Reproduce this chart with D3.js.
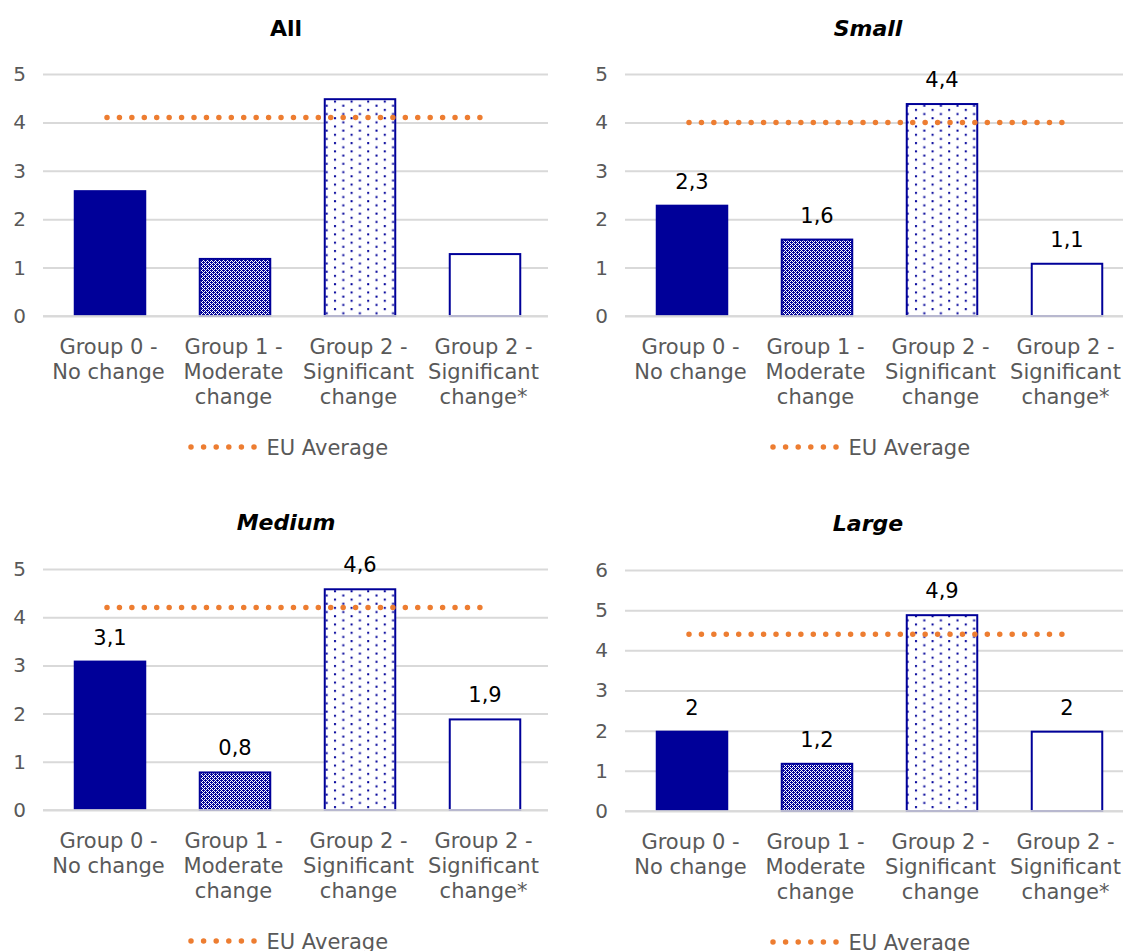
<!DOCTYPE html>
<html>
<head>
<meta charset="utf-8">
<script src="https://cdn.jsdelivr.net/npm/d3@7"></script>
<style>
  html, body { margin: 0; padding: 0; background: #fff; }
  svg text { font-family: "DejaVu Sans", Verdana, sans-serif; }
</style>
</head>
<body>
<svg id="chart" width="1123" height="951"></svg>
<script>
// ---- data ----
const categories = ["G0", "G1", "G2", "G2*"];
const categoryLabelLines = [
  ["Group 0 -", "No change"],
  ["Group 1 -", "Moderate", "change"],
  ["Group 2 -", "Significant", "change"],
  ["Group 2 -", "Significant", "change*"]
];
const panelTitles = ["All", "Small", "Medium", "Large"];
const allValues = [2.6, 1.2, 4.5, 1.3];
const smallValues = [2.3, 1.6, 4.4, 1.1];
const mediumValues = [3.1, 0.8, 4.6, 1.9];
const largeValues = [2.0, 1.2, 4.9, 2.0];
const euAverages = [4.1, 4.0, 4.2, 4.4];
const yMaxes = [5, 5, 5, 6];
const showDataLabels = [false, true, true, true];
const legendLabel = "EU Average";

// ---- styling / layout ----
const BLUE = "#000099";
const ORANGE = "#ED7D31";
const GRID = "#d9d9d9";
const GREY_TEXT = "#595959";
const FS = 20;
const FS_CAT = 21;

const svg = d3.select("#chart");
const defs = svg.append("defs");

// checker/lattice pattern (Group 1)
const pCheck = defs.append("pattern").attr("id", "pCheck")
  .attr("patternUnits", "userSpaceOnUse").attr("width", 4).attr("height", 4);
pCheck.append("rect").attr("width", 4).attr("height", 4).attr("fill", "#fff");
[[0,0],[2,0],[1,1],[3,1],[0,2],[2,2],[1,3],[3,3],[1,0],[3,2]].forEach(([x,y]) => {
  pCheck.append("rect").attr("x", x).attr("y", y).attr("width", 1).attr("height", 1)
    .attr("fill", BLUE).attr("shape-rendering", "crispEdges");
});

// dotted pattern (Group 2)
const pDots = defs.append("pattern").attr("id", "pDots")
  .attr("patternUnits", "userSpaceOnUse").attr("width", 16.6).attr("height", 8.3);
pDots.append("rect").attr("width", 16.6).attr("height", 8.3).attr("fill", "#fff");
pDots.append("rect").attr("x", 2).attr("y", 1).attr("width", 2).attr("height", 2).attr("fill", BLUE);
pDots.append("rect").attr("x", 10.3).attr("y", 5.15).attr("width", 2).attr("height", 2).attr("fill", BLUE);

const fills = [BLUE, "url(#pCheck)", "url(#pDots)", "#fff"];

const panels = [
  { left: 43,  right: 548,  y0: 316, values: allValues },
  { left: 625, right: 1130, y0: 316, values: smallValues },
  { left: 43,  right: 548,  y0: 810, values: mediumValues },
  { left: 625, right: 1130, y0: 811, values: largeValues }
];
const plotHeights = [242, 242, 241, 241];

const fmt = v => String(v).replace(".", ",");

panels.forEach((p, i) => {
  const g = svg.append("g");
  const x = d3.scaleBand().domain(categories).range([p.left + 2, p.right + 2])
    .paddingInner(0.42).paddingOuter(0.23);
  const y = d3.scaleLinear().domain([0, yMaxes[i]]).range([p.y0, p.y0 - plotHeights[i]]);
  const cx = k => x(categories[k]) + x.bandwidth() / 2;

  // title
  g.append("text")
    .attr("x", (p.left + p.right) / 2 - 9.5).attr("y", p.y0 - 280)
    .attr("text-anchor", "middle")
    .attr("font-size", 22).attr("font-weight", "bold")
    .attr("font-style", i === 0 ? "normal" : "italic")
    .attr("fill", "#000")
    .text(panelTitles[i]);

  // y axis with gridlines
  const yAxis = d3.axisLeft(y).ticks(yMaxes[i]).tickSize(-(p.right - p.left)).tickPadding(17)
    .tickFormat(d3.format("d"));
  const ga = g.append("g").attr("transform", `translate(${p.left},0)`).call(yAxis);
  ga.select(".domain").remove();
  ga.selectAll(".tick line").attr("stroke", GRID).attr("stroke-width", 2);
  ga.selectAll(".tick text").attr("fill", GREY_TEXT).attr("font-size", FS)
    .attr("font-family", "DejaVu Sans, Verdana, sans-serif");

  // bars
  g.selectAll("rect.bar").data(p.values).join("rect")
    .attr("class", "bar")
    .attr("x", (d, k) => x(categories[k]) + (k === 0 ? 0 : 1))
    .attr("y", (d, k) => y(d) + (k === 0 ? 0 : 1))
    .attr("width", (d, k) => x.bandwidth() - (k === 0 ? 0 : 2))
    .attr("height", (d, k) => y(0) - y(d) - (k === 0 ? 0 : 1))
    .attr("fill", (d, k) => fills[k])
    .attr("stroke", BLUE)
    .attr("stroke-width", (d, k) => k === 0 ? 0 : 2);

  // baseline over bars
  g.append("line").attr("x1", p.left).attr("x2", p.right)
    .attr("y1", y(0)).attr("y2", y(0))
    .attr("stroke", GRID).attr("stroke-width", 2).attr("opacity", 0.85);

  // EU average dotted line
  g.append("line")
    .attr("x1", cx(0) - 3).attr("x2", cx(3) - 3 + 0.5)
    .attr("y1", y(euAverages[i])).attr("y2", y(euAverages[i]))
    .attr("stroke", ORANGE).attr("stroke-width", 5.5)
    .attr("stroke-linecap", "round").attr("stroke-dasharray", "0 12.43");

  // data labels
  if (showDataLabels[i]) {
    g.selectAll("text.dl").data(p.values).join("text")
      .attr("class", "dl")
      .attr("x", (d, k) => cx(k))
      .attr("y", d => y(d) - 16)
      .attr("text-anchor", "middle")
      .attr("font-size", FS_CAT).attr("fill", "#000")
      .text(d => fmt(d));
  }

  // category labels
  categoryLabelLines.forEach((lines, k) => {
    const t = g.append("text")
      .attr("text-anchor", "middle")
      .attr("font-size", FS_CAT).attr("fill", GREY_TEXT);
    lines.forEach((ln, j) => {
      t.append("tspan")
        .attr("x", cx(k) - 1.5)
        .attr("y", p.y0 + 38 + j * 25)
        .text(ln);
    });
  });

  // legend
  const mid = (p.left + p.right) / 2;
  const ly = p.y0 + 131;
  g.append("line")
    .attr("x1", mid - 104.5).attr("x2", mid - 41)
    .attr("y1", ly).attr("y2", ly)
    .attr("stroke", ORANGE).attr("stroke-width", 5.5)
    .attr("stroke-linecap", "round").attr("stroke-dasharray", "0 12.6");
  g.append("text")
    .attr("x", mid - 29).attr("y", ly + 7.5)
    .attr("font-size", FS_CAT).attr("fill", GREY_TEXT)
    .text(legendLabel);
});
</script>
</body>
</html>
